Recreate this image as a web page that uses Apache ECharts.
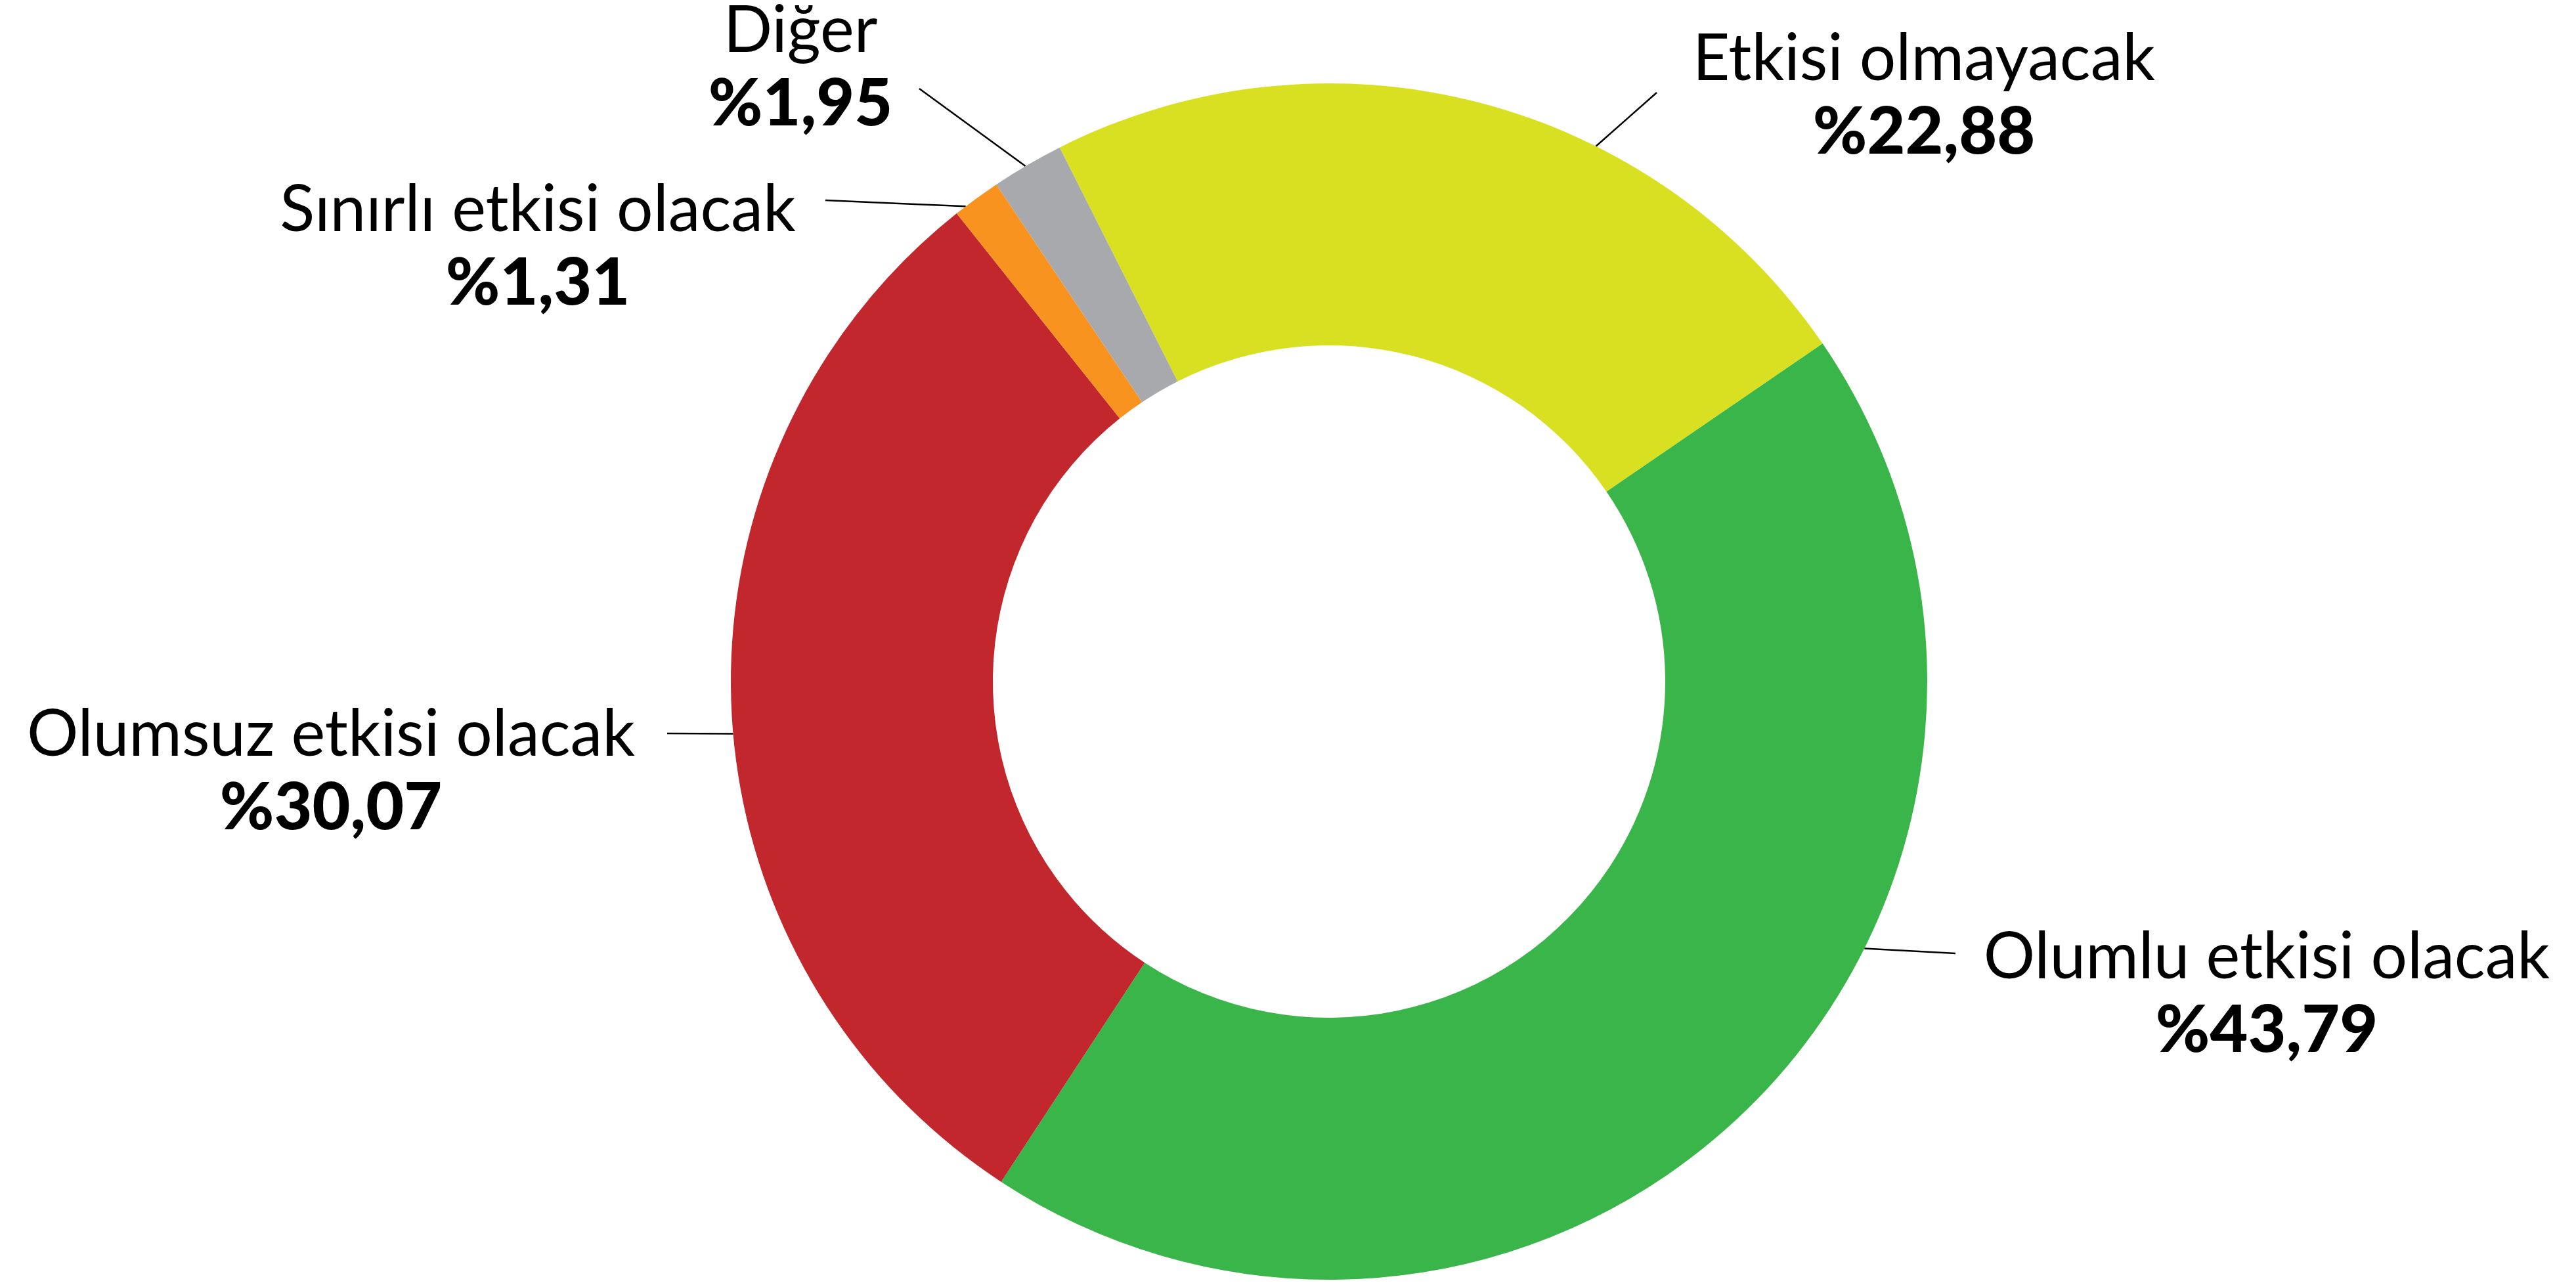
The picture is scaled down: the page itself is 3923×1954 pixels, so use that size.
<!DOCTYPE html>
<html lang="tr">
<head>
<meta charset="utf-8">
<title>Etki dağılımı</title>
<script src="https://cdn.jsdelivr.net/npm/echarts@6/dist/echarts.min.js"></script>
<style>
  html, body { margin: 0; padding: 0; background: #ffffff; }
  #chart { width: 3923px; height: 1954px; }
</style>
</head>
<body>
<div id="chart"></div>
<script>
// Answer categories, clockwise from the top-left
const categories = [
  'Etkisi olmayacak',
  'Olumlu etkisi olacak',
  'Olumsuz etkisi olacak',
  'Sınırlı etkisi olacak',
  'Diğer'
];
// Share of respondents, percent
const shares = [22.88, 43.79, 30.07, 1.31, 1.95];
const sliceColors = ['#D9E021', '#39B54A', '#C1272D', '#F7931E', '#A7A9AC'];

// Ring geometry
const CX = 2024, CY = 1038, R_IN = 512, R_OUT = 911;
const START_ANGLE = 116.77;

// Leader lines: angle on the outer rim (deg, clockwise from 12 o'clock) and free end
const leaderAngles = [26.5, 116.5, 265, 322.6, 329.5];
const leaderEnds = [[2523, 141], [2978, 1452], [1016, 1117], [1257, 305], [1400, 135]];
// Centre of each two-line label block
const labelCenters = [[2930, 146], [3452, 1514], [504, 1175], [819, 376], [1219, 103]];

const FONT = 'Lato, "Noto Sans", sans-serif';

function fmtPct(v) {
  return '%' + v.toFixed(2).replace('.', ',');
}

function rimPoint(deg) {
  const a = deg * Math.PI / 180;
  return [CX + R_OUT * Math.sin(a), CY - R_OUT * Math.cos(a)];
}

const chart = echarts.init(document.getElementById('chart'), null, { renderer: 'canvas' });

chart.setOption({
  backgroundColor: '#ffffff',
  animation: false,
  series: [{
    type: 'pie',
    center: [CX, CY],
    radius: [R_IN, R_OUT],
    startAngle: START_ANGLE,
    clockwise: true,
    avoidLabelOverlap: false,
    itemStyle: { borderWidth: 0 },
    emphasis: { disabled: true },
    data: categories.map((name, i) => ({
      name,
      value: shares[i],
      itemStyle: { color: sliceColors[i] }
    })),
    label: {
      show: true,
      position: 'outside',
      formatter: p => '{n|' + p.name + '}\n{v|' + fmtPct(p.value) + '}',
      rich: {
        n: { fontFamily: FONT, fontSize: 98, fontWeight: 400, color: '#000000', lineHeight: 112, align: 'center' },
        v: { fontFamily: FONT, fontSize: 100, fontWeight: 900, color: '#000000', lineHeight: 112, align: 'center' }
      }
    },
    labelLine: {
      show: true,
      smooth: false,
      lineStyle: { color: '#000000', width: 2.5 }
    },
    labelLayout: function (params) {
      const i = params.dataIndex;
      const start = rimPoint(leaderAngles[i]);
      const end = leaderEnds[i];
      const mid = [(start[0] + end[0]) / 2, (start[1] + end[1]) / 2];
      return {
        x: labelCenters[i][0],
        y: labelCenters[i][1],
        align: 'center',
        verticalAlign: 'middle',
        labelLinePoints: [start, mid, end]
      };
    }
  }]
});
</script>
</body>
</html>
